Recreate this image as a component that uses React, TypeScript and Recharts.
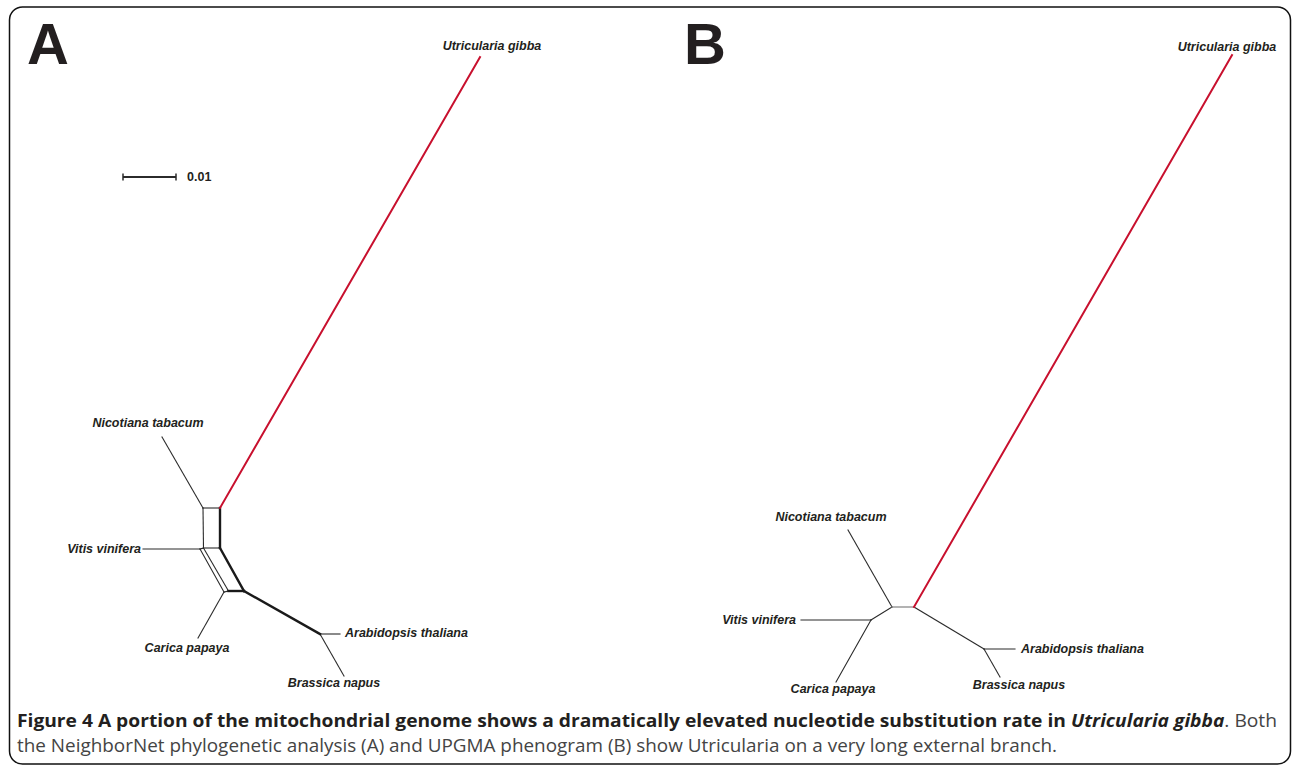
import React from "react";
import { ScatterChart, Scatter, XAxis, YAxis } from "recharts";

const W = 1293;
const H = 767;

// ---- Panel A: NeighborNet splits graph (layout units) ----
const nodesA = [
  { id: "utr", x: 480, y: 57 },
  { id: "nic", x: 162, y: 437 },
  { id: "vit", x: 143, y: 549 },
  { id: "car", x: 198, y: 638 },
  { id: "ara", x: 340, y: 634 },
  { id: "bra", x: 344, y: 676 },
  { id: "p1", x: 203, y: 508 },
  { id: "p2", x: 220, y: 508 },
  { id: "p3", x: 203.5, y: 548 },
  { id: "p3b", x: 200, y: 549 },
  { id: "p4", x: 220, y: 548 },
  { id: "p5", x: 224, y: 592 },
  { id: "p5b", x: 228.5, y: 591 },
  { id: "p6", x: 244, y: 591 },
  { id: "p9", x: 320, y: 634 },
];
const edgesAThin = [
  ["p1", "nic"], ["p1", "p2"], ["p1", "p3"], ["p3", "p4"],
  ["p3b", "p3"], ["p3b", "vit"], ["p3b", "p5"], ["p3", "p5b"],
  ["p5", "p5b"], ["p5", "car"], ["p9", "ara"], ["p9", "bra"],
];
const edgesAThick = [["p2", "p4"], ["p4", "p6"], ["p5b", "p6"], ["p6", "p9"]];
const edgesALong = [["p2", "utr"]];

// ---- Panel B: UPGMA phenogram (layout units) ----
const nodesB = [
  { id: "utr", x: 1232, y: 55 },
  { id: "nic", x: 848, y: 530 },
  { id: "vit", x: 801, y: 620 },
  { id: "car", x: 836, y: 682 },
  { id: "ara", x: 1015, y: 649 },
  { id: "bra", x: 1000, y: 677 },
  { id: "q1", x: 892, y: 607 },
  { id: "q2", x: 914, y: 607 },
  { id: "q3", x: 871, y: 620 },
  { id: "q4", x: 984, y: 649 },
];
const edgesBThin = [
  ["q1", "nic"], ["q1", "q3"], ["q3", "vit"], ["q3", "car"],
  ["q2", "q4"], ["q4", "ara"], ["q4", "bra"],
];
const edgesBRoot = [["q1", "q2"]];
const edgesBLong = [["q2", "utr"]];

// ---- taxon labels ----
const labelsA = [
  { name: "Utricularia gibba", x: 492, y: 46, side: "above" },
  { name: "Nicotiana tabacum", x: 148, y: 423, side: "above" },
  { name: "Vitis vinifera", x: 141, y: 549, side: "left" },
  { name: "Carica papaya", x: 187, y: 648, side: "below" },
  { name: "Arabidopsis thaliana", x: 345, y: 633, side: "right" },
  { name: "Brassica napus", x: 334, y: 683, side: "below" },
];
const labelsB = [
  { name: "Utricularia gibba", x: 1227, y: 47, side: "above" },
  { name: "Nicotiana tabacum", x: 831, y: 517, side: "above" },
  { name: "Vitis vinifera", x: 796, y: 620, side: "left" },
  { name: "Carica papaya", x: 833, y: 689, side: "below" },
  { name: "Arabidopsis thaliana", x: 1021, y: 649, side: "right" },
  { name: "Brassica napus", x: 1019, y: 685, side: "below" },
];

// scale bar: 0.01 substitutions per site
const scaleBar = [
  { x: 123, y: 177 },
  { x: 176, y: 177 },
];
const scaleLabel = [{ name: "0.01", x: 187, y: 177, side: "right" }];

const INK = "#2b2b2b";
const RED = "#c8102e";

function seg(nodes: { id: string; x: number; y: number }[], e: string[]) {
  const a = nodes.find((n) => n.id === e[0])!;
  const b = nodes.find((n) => n.id === e[1])!;
  return [
    { x: a.x, y: a.y },
    { x: b.x, y: b.y },
  ];
}

const Empty = () => <g />;

const anchorFor = (side: string) =>
  side === "left" ? "end" : side === "right" ? "start" : "middle";

const TaxonLabel = (props: any) => {
  const { cx, cy, payload } = props;
  return (
    <text
      x={cx}
      y={cy}
      textAnchor={anchorFor(payload.side)}
      dominantBaseline="central"
      fontFamily="Liberation Sans, Arial, sans-serif"
      fontWeight={700}
      fontStyle="italic"
      fontSize={12.5}
      fill="#231f20"
    >
      {payload.name}
    </text>
  );
};

const ScaleLabel = (props: any) => {
  const { cx, cy, payload } = props;
  return (
    <text
      x={cx}
      y={cy}
      dominantBaseline="central"
      fontFamily="Liberation Sans, Arial, sans-serif"
      fontWeight={700}
      fontSize={12.5}
      fill="#231f20"
    >
      {payload.name}
    </text>
  );
};

const EndTick = (props: any) => {
  const { cx, cy } = props;
  return <line x1={cx} x2={cx} y1={cy - 3.5} y2={cy + 3.5} stroke={INK} strokeWidth={1.5} />;
};

function edgeSeries(
  key: string,
  nodes: { id: string; x: number; y: number }[],
  edges: string[][],
  stroke: string,
  width: number
) {
  return edges.map((e, i) => (
    <Scatter
      key={`${key}-${i}`}
      data={seg(nodes, e)}
      line={{ stroke, strokeWidth: width, strokeLinecap: "square" }}
      shape={Empty}
      isAnimationActive={false}
    />
  ));
}

export default function App() {
  return (
    <div
      style={{
        position: "absolute",
        left: 0,
        top: 0,
        width: W,
        height: H,
        background: "#fff",
        overflow: "hidden",
      }}
    >
      <ScatterChart width={W} height={H} margin={{ top: 0, right: 0, bottom: 0, left: 0 }}>
        <XAxis type="number" dataKey="x" domain={[0, W]} hide />
        <YAxis type="number" dataKey="y" domain={[0, H]} reversed hide />
        {edgesSeriesAll()}
        <Scatter
          data={scaleBar}
          line={{ stroke: INK, strokeWidth: 2 }}
          shape={EndTick}
          isAnimationActive={false}
        />
        <Scatter data={scaleLabel} shape={ScaleLabel} isAnimationActive={false} />
        <Scatter data={labelsA} shape={TaxonLabel} isAnimationActive={false} />
        <Scatter data={labelsB} shape={TaxonLabel} isAnimationActive={false} />
      </ScatterChart>
      <svg
        width={W}
        height={H}
        style={{ position: "absolute", left: 0, top: 0, pointerEvents: "none" }}
      >
        <rect x={9.5} y={7} width={1281} height={757} rx={13} fill="none" stroke="#111" strokeWidth={1.5} />
        <text x={27} y={64} fontFamily="Liberation Sans, Arial, sans-serif" fontWeight={700} fontSize={58} fill="#231f20">
          A
        </text>
        <text x={684} y={64} fontFamily="Liberation Sans, Arial, sans-serif" fontWeight={700} fontSize={58} fill="#231f20">
          B
        </text>
        <text
          x={17}
          y={727}
          fontFamily="Open Sans, sans-serif"
          fontSize={17.5}
          fill="#231f20"
          textLength={1260}
          lengthAdjust="spacingAndGlyphs"
        >
          <tspan fontWeight={700}>
            Figure 4 A portion of the mitochondrial genome shows a dramatically elevated nucleotide substitution rate in{" "}
          </tspan>
          <tspan fontWeight={700} fontStyle="italic">
            Utricularia gibba
          </tspan>
          <tspan fill="#444">. Both</tspan>
        </text>
        <text
          x={17}
          y={752}
          fontFamily="Open Sans, sans-serif"
          fontSize={17.5}
          fill="#444"
          textLength={1040}
          lengthAdjust="spacingAndGlyphs"
        >
          the NeighborNet phylogenetic analysis (A) and UPGMA phenogram (B) show Utricularia on a very long external branch.
        </text>
      </svg>
    </div>
  );
}

function edgesSeriesAll() {
  return [
    ...edgeSeries("a-thin", nodesA, edgesAThin, INK, 1.1),
    ...edgeSeries("a-thick", nodesA, edgesAThick, "#1a1a1a", 2.4),
    ...edgeSeries("a-long", nodesA, edgesALong, RED, 2),
    ...edgeSeries("b-thin", nodesB, edgesBThin, INK, 1.1),
    ...edgeSeries("b-root", nodesB, edgesBRoot, "#8a8a8a", 1.3),
    ...edgeSeries("b-long", nodesB, edgesBLong, RED, 2),
  ];
}
